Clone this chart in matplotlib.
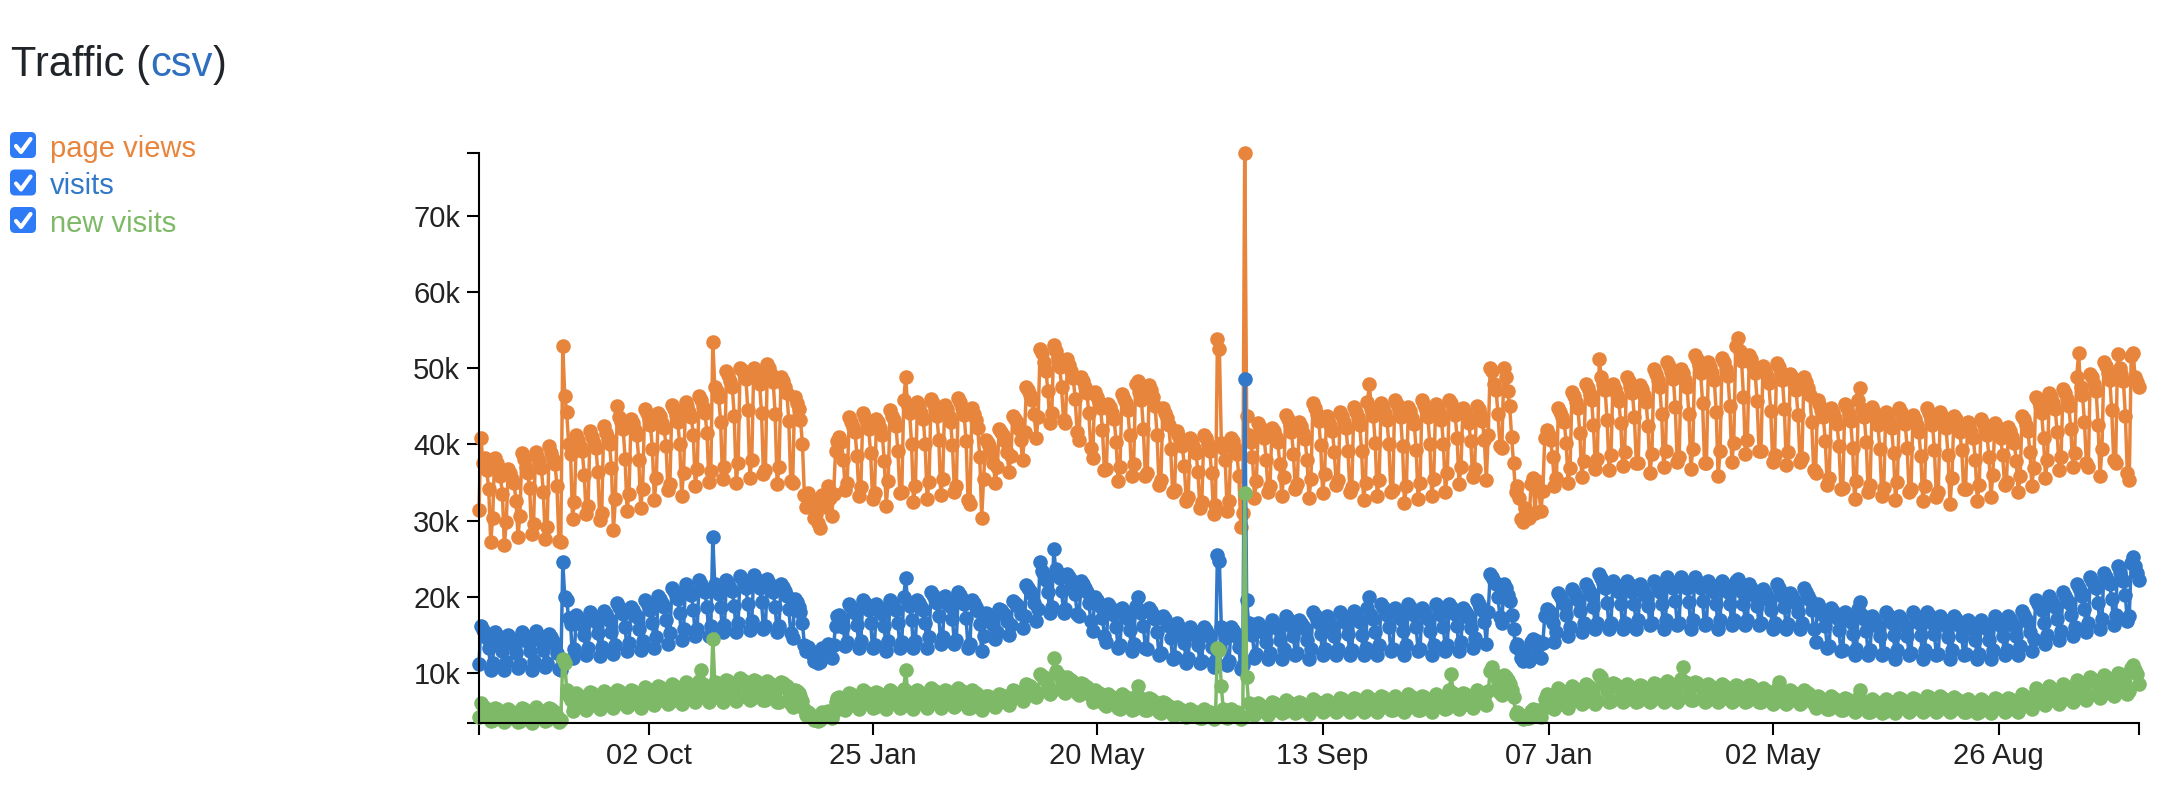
import matplotlib
matplotlib.use("Agg")
import matplotlib.pyplot as plt
import matplotlib.dates as mdates
from matplotlib.patches import FancyBboxPatch
import pandas as pd

# daily series, first day is a Sunday; one row per week (Sun..Sat), values in thousands
START = "2013-07-07"

page_views = [
    [31.4, 40.9, 37.5, 38.2, 36.6, 34.1, 27.2],
    [30.3, 38.2, 37.6, 36.9, 35.8, 33.5, 26.8],
    [29.8, 36.8, 36.2, 35.4, 34.9, 32.6, 27.9],
    [30.6, 38.9, 38.1, 37.0, 36.2, 34.3, 28.2],
    [29.5, 39.0, 38.4, 37.8, 36.9, 33.8, 27.6],
    [29.2, 39.8, 38.9, 38.1, 37.4, 34.6, 27.3],
    [27.2, 53.0, 46.4, 44.3, 40.1, 38.8, 30.2],
    [32.5, 41.2, 40.6, 39.8, 39.1, 36.0, 30.8],
    [31.9, 41.8, 41.0, 40.2, 39.6, 36.4, 30.1],
    [31.0, 42.4, 41.5, 40.8, 40.0, 36.9, 28.7],
    [32.8, 45.1, 43.6, 42.9, 42.0, 38.1, 31.2],
    [33.5, 43.3, 42.8, 41.9, 41.2, 38.0, 31.6],
    [34.2, 44.6, 44.1, 43.3, 42.5, 39.4, 32.7],
    [35.6, 44.2, 43.7, 42.8, 42.1, 39.8, 34.0],
    [34.8, 45.2, 44.7, 43.9, 43.0, 40.1, 33.2],
    [36.3, 45.6, 45.0, 44.3, 43.6, 41.2, 34.6],
    [36.8, 46.4, 45.8, 44.9, 44.1, 41.5, 35.1],
    [36.5, 53.5, 47.6, 47.0, 46.3, 43.0, 35.4],
    [37.0, 49.6, 49.1, 48.4, 47.5, 43.8, 35.0],
    [37.5, 50.1, 49.8, 49.2, 48.6, 44.5, 35.6],
    [38.0, 50.0, 49.5, 48.8, 47.9, 44.2, 36.1],
    [36.6, 50.6, 50.0, 49.3, 48.2, 44.0, 34.8],
    [37.0, 48.9, 48.4, 47.6, 46.8, 43.1, 35.2],
    [34.9, 46.2, 45.5, 44.6, 43.2, 40.1, 33.4],
    [31.8, 33.6, 33.0, 32.1, 30.4, 30.9, 29.7],
    [29.0, 33.4, 32.6, 31.8, 34.5, 33.0, 30.6],
    [33.5, 39.2, 40.5, 41.0, 40.3, 38.0, 34.0],
    [35.0, 43.6, 43.0, 42.3, 41.6, 38.5, 33.2],
    [34.4, 44.1, 43.5, 42.8, 42.0, 38.9, 32.8],
    [33.6, 43.4, 42.9, 42.2, 41.3, 37.8, 31.9],
    [35.2, 44.5, 43.8, 43.2, 42.4, 39.2, 33.6],
    [33.8, 45.8, 48.9, 45.0, 44.2, 40.1, 32.4],
    [34.6, 45.6, 45.0, 44.2, 43.4, 40.0, 32.8],
    [35.1, 46.0, 45.4, 44.7, 43.8, 40.6, 33.3],
    [35.4, 45.2, 44.6, 43.8, 43.0, 39.9, 33.8],
    [34.5, 46.1, 45.6, 44.8, 43.9, 40.4, 32.7],
    [32.2, 44.8, 44.0, 43.2, 42.1, 38.4, 30.4],
    [35.4, 40.6, 40.2, 39.8, 39.0, 37.5, 35.0],
    [37.0, 42.0, 41.7, 41.2, 40.5, 39.0, 36.4],
    [38.5, 43.8, 43.4, 42.9, 42.0, 40.6, 37.9],
    [41.6, 47.6, 47.2, 46.5, 45.8, 44.0, 40.8],
    [43.6, 52.6, 52.0, 50.8, 49.6, 47.0, 42.8],
    [44.2, 53.1, 52.3, 51.4, 50.2, 47.5, 43.2],
    [42.8, 51.2, 50.4, 49.6, 48.7, 46.0, 41.6],
    [40.6, 48.9, 48.3, 47.5, 46.8, 44.1, 39.5],
    [38.2, 46.9, 46.3, 45.6, 44.8, 41.9, 36.6],
    [36.8, 45.3, 44.9, 44.1, 43.4, 40.3, 35.2],
    [37.1, 46.6, 46.0, 45.4, 44.5, 41.2, 35.8],
    [37.4, 47.9, 48.3, 46.9, 45.8, 42.0, 35.9],
    [36.2, 47.8, 47.1, 46.2, 45.1, 41.3, 34.7],
    [35.3, 44.8, 44.2, 43.5, 42.6, 39.4, 33.7],
    [34.0, 41.8, 41.3, 40.6, 39.8, 37.2, 32.6],
    [33.1, 40.8, 40.3, 39.6, 38.9, 36.4, 31.6],
    [32.4, 41.2, 40.9, 40.1, 39.2, 36.3, 30.8],
    [32.0, 53.8, 52.6, 40.2, 39.5, 37.9, 31.2],
    [32.6, 40.8, 40.4, 39.6, 38.7, 35.8, 29.2],
    [31.0, 78.3, 43.7, 41.2, 40.3, 38.4, 33.0],
    [35.2, 42.8, 42.3, 41.6, 40.8, 38.0, 33.7],
    [34.6, 42.2, 41.8, 41.0, 40.3, 37.4, 33.2],
    [35.7, 43.9, 43.3, 42.6, 41.7, 38.8, 34.1],
    [34.8, 42.9, 42.4, 41.5, 40.7, 37.9, 33.0],
    [35.4, 45.4, 44.8, 44.0, 43.1, 39.9, 33.6],
    [36.1, 43.8, 43.3, 42.5, 41.8, 39.0, 34.7],
    [35.3, 44.3, 43.8, 43.0, 42.2, 39.1, 33.8],
    [34.4, 44.9, 44.3, 43.6, 42.6, 39.2, 32.7],
    [34.9, 45.6, 48.0, 44.6, 43.7, 40.2, 33.2],
    [35.3, 45.4, 44.9, 44.1, 43.2, 40.0, 33.8],
    [34.0, 45.9, 45.3, 44.6, 43.6, 39.8, 32.3],
    [34.5, 44.9, 44.4, 43.5, 42.7, 39.3, 32.8],
    [34.9, 45.8, 45.2, 44.5, 43.6, 40.1, 33.2],
    [35.4, 45.3, 44.8, 44.0, 43.2, 40.0, 33.7],
    [36.3, 45.8, 45.4, 44.7, 43.9, 40.9, 34.8],
    [37.0, 44.8, 44.2, 43.6, 42.8, 40.5, 35.7],
    [36.8, 45.1, 44.7, 44.0, 43.1, 40.6, 35.3],
    [41.2, 50.1, 49.6, 48.0, 47.2, 44.0, 39.8],
    [39.6, 50.0, 48.9, 47.0, 45.0, 41.0, 37.5],
    [33.8, 34.5, 33.0, 30.2, 29.8, 31.6, 30.5],
    [30.4, 34.8, 35.6, 31.0, 35.2, 34.0, 31.2],
    [33.9, 40.8, 41.9, 41.2, 40.6, 38.4, 34.6],
    [35.6, 44.8, 44.3, 43.6, 42.9, 40.2, 34.9],
    [36.9, 46.9, 46.4, 45.6, 44.8, 41.5, 35.7],
    [37.8, 48.0, 47.4, 46.6, 45.8, 42.5, 36.8],
    [38.1, 51.2, 48.8, 48.0, 47.1, 43.2, 36.6],
    [38.6, 47.9, 47.3, 46.5, 45.7, 42.8, 37.2],
    [39.0, 48.9, 48.4, 47.6, 46.7, 43.6, 37.6],
    [37.6, 47.8, 47.3, 46.5, 45.6, 42.4, 36.2],
    [38.7, 49.9, 49.3, 48.5, 47.6, 44.0, 37.1],
    [39.2, 50.8, 50.3, 49.5, 48.6, 44.9, 37.7],
    [38.3, 49.9, 49.4, 48.5, 47.6, 44.0, 36.8],
    [39.4, 51.8, 51.2, 50.4, 49.4, 45.5, 37.6],
    [37.5, 50.8, 50.2, 49.4, 48.5, 44.3, 35.8],
    [39.1, 51.3, 50.8, 49.9, 49.0, 45.0, 37.7],
    [40.2, 53.0, 54.0, 52.3, 51.0, 46.3, 38.8],
    [40.6, 51.8, 51.2, 50.3, 49.4, 45.7, 39.2],
    [39.2, 50.3, 49.8, 49.0, 48.1, 44.4, 37.7],
    [38.6, 50.7, 50.2, 49.3, 48.5, 44.6, 37.3],
    [39.0, 49.3, 48.8, 48.0, 47.1, 43.9, 37.7],
    [38.2, 48.8, 48.2, 47.4, 46.5, 43.0, 36.7],
    [36.2, 45.8, 45.3, 44.5, 43.6, 40.4, 34.7],
    [35.6, 44.8, 44.3, 43.5, 42.7, 39.8, 34.2],
    [34.3, 45.3, 44.8, 44.0, 43.1, 39.6, 32.8],
    [35.2, 45.8, 47.4, 44.6, 43.6, 40.3, 33.7],
    [34.7, 44.9, 44.3, 43.5, 42.6, 39.4, 33.2],
    [34.3, 44.3, 43.8, 43.0, 42.2, 38.9, 32.7],
    [35.1, 44.8, 44.3, 43.5, 42.7, 39.6, 33.7],
    [34.2, 43.9, 43.3, 42.5, 41.7, 38.5, 32.6],
    [34.6, 44.8, 44.2, 43.4, 42.6, 39.3, 33.1],
    [33.8, 44.3, 43.7, 42.9, 42.1, 38.6, 32.2],
    [35.6, 43.8, 43.3, 42.5, 41.7, 39.3, 34.1],
    [34.1, 42.9, 42.4, 41.6, 40.8, 37.9, 32.6],
    [34.7, 43.3, 42.8, 42.0, 41.2, 38.3, 33.1],
    [36.0, 42.8, 42.3, 41.6, 40.8, 38.6, 34.7],
    [35.1, 42.3, 41.8, 41.0, 40.2, 37.8, 33.7],
    [35.8, 43.8, 43.3, 42.5, 41.8, 39.0, 34.6],
    [36.9, 46.3, 45.8, 45.0, 44.1, 40.8, 35.6],
    [37.9, 46.8, 46.3, 45.5, 44.6, 41.6, 36.6],
    [38.3, 47.3, 46.8, 46.0, 45.1, 42.0, 37.1],
    [38.9, 48.8, 52.0, 47.5, 46.5, 43.0, 37.5],
    [37.0, 49.3, 48.8, 48.0, 47.0, 42.6, 35.8],
    [39.4, 50.8, 50.3, 49.4, 48.5, 44.5, 38.0],
    [37.5, 51.9, 50.1, 49.2, 48.3, 43.8, 36.2],
    [35.3, 51.6, 52.0, 48.9, 48.2, 47.5],
]

visits = [
    [11.2, 16.2, 15.6, 15.0, 14.6, 13.2, 10.4],
    [11.3, 15.4, 15.0, 14.6, 14.2, 12.9, 10.3],
    [11.4, 15.0, 14.6, 14.1, 13.7, 12.6, 10.6],
    [11.1, 15.3, 14.9, 14.4, 14.0, 12.8, 10.3],
    [11.6, 15.5, 15.1, 14.6, 14.2, 13.0, 10.8],
    [11.3, 15.1, 14.7, 14.2, 13.8, 12.6, 10.5],
    [10.4, 24.5, 20.0, 19.6, 17.2, 16.4, 12.0],
    [13.1, 17.6, 17.2, 16.7, 16.3, 14.9, 12.3],
    [13.2, 18.0, 17.6, 17.1, 16.7, 15.2, 12.2],
    [13.4, 18.1, 17.7, 17.2, 16.8, 15.3, 12.5],
    [13.7, 19.2, 18.7, 18.2, 17.7, 16.0, 12.8],
    [13.9, 18.6, 18.2, 17.7, 17.3, 15.8, 13.0],
    [14.2, 19.6, 19.2, 18.7, 18.2, 16.5, 13.3],
    [14.7, 20.1, 19.7, 19.2, 18.7, 17.0, 13.8],
    [15.2, 21.1, 20.7, 20.2, 19.7, 17.8, 14.3],
    [15.7, 21.7, 21.2, 20.7, 20.2, 18.3, 14.8],
    [15.8, 22.2, 21.7, 21.2, 20.6, 18.6, 14.8],
    [16.2, 27.8, 21.6, 21.0, 20.4, 18.6, 15.3],
    [16.3, 22.2, 21.8, 21.2, 20.7, 18.8, 15.3],
    [16.6, 22.7, 22.3, 21.7, 21.1, 19.1, 15.6],
    [16.8, 22.8, 22.3, 21.7, 21.2, 19.3, 15.8],
    [16.2, 22.3, 21.8, 21.2, 20.6, 18.7, 15.3],
    [16.2, 21.7, 21.3, 20.7, 20.1, 18.4, 15.2],
    [14.6, 19.7, 19.3, 18.7, 18.0, 16.5, 13.7],
    [12.8, 13.4, 13.0, 12.5, 11.6, 12.0, 11.3],
    [11.4, 13.3, 13.0, 12.6, 13.8, 13.2, 12.0],
    [13.6, 16.2, 17.4, 17.6, 17.2, 16.0, 13.5],
    [14.1, 19.1, 18.7, 18.2, 17.8, 16.3, 13.3],
    [14.2, 19.6, 19.2, 18.7, 18.2, 16.6, 13.3],
    [13.7, 19.1, 18.7, 18.2, 17.7, 16.1, 12.8],
    [14.2, 19.6, 19.2, 18.7, 18.2, 16.6, 13.3],
    [14.0, 20.0, 22.4, 19.3, 18.8, 17.0, 13.2],
    [14.2, 19.6, 19.2, 18.7, 18.2, 16.6, 13.3],
    [14.7, 20.6, 20.2, 19.7, 19.2, 17.4, 13.8],
    [14.7, 20.1, 19.7, 19.2, 18.7, 17.1, 13.8],
    [14.3, 20.6, 20.2, 19.7, 19.1, 17.2, 13.3],
    [13.8, 19.6, 19.2, 18.7, 18.1, 16.4, 12.8],
    [14.8, 17.9, 17.7, 17.4, 17.1, 16.3, 14.4],
    [15.3, 18.4, 18.2, 17.9, 17.6, 16.8, 14.9],
    [16.3, 19.4, 19.2, 18.9, 18.6, 17.7, 15.9],
    [17.4, 21.5, 21.2, 20.8, 20.4, 19.2, 16.8],
    [18.4, 24.5, 23.4, 22.8, 22.2, 20.6, 17.8],
    [18.6, 26.2, 23.6, 23.1, 22.5, 20.8, 17.9],
    [18.4, 23.0, 22.6, 22.2, 21.7, 20.3, 17.7],
    [17.4, 22.0, 21.6, 21.1, 20.6, 19.2, 16.8],
    [15.5, 20.0, 19.6, 19.1, 18.6, 17.2, 14.8],
    [14.1, 19.0, 18.6, 18.1, 17.6, 16.0, 13.3],
    [13.6, 18.5, 18.1, 17.6, 17.1, 15.6, 12.8],
    [13.8, 18.8, 20.0, 18.3, 17.8, 16.1, 13.3],
    [13.1, 18.5, 18.1, 17.6, 17.1, 15.4, 12.3],
    [12.6, 17.5, 17.1, 16.6, 16.1, 14.6, 11.8],
    [12.1, 16.5, 16.1, 15.6, 15.2, 13.9, 11.3],
    [12.0, 16.0, 15.6, 15.2, 14.8, 13.6, 11.3],
    [11.6, 16.0, 15.6, 15.1, 14.7, 13.4, 10.8],
    [11.5, 25.5, 24.7, 16.0, 15.5, 14.6, 11.0],
    [11.6, 16.0, 15.6, 15.2, 14.7, 13.4, 10.5],
    [11.0, 48.6, 19.6, 16.6, 16.0, 14.9, 12.0],
    [12.5, 16.5, 16.1, 15.7, 15.2, 14.0, 11.8],
    [12.6, 17.0, 16.6, 16.1, 15.7, 14.3, 11.8],
    [13.1, 17.5, 17.1, 16.6, 16.2, 14.8, 12.3],
    [12.6, 17.0, 16.6, 16.1, 15.7, 14.3, 11.8],
    [13.1, 18.0, 17.6, 17.1, 16.6, 15.1, 12.3],
    [13.1, 17.5, 17.1, 16.6, 16.2, 14.8, 12.3],
    [13.1, 18.0, 17.6, 17.1, 16.6, 15.1, 12.3],
    [13.0, 18.1, 17.6, 17.1, 16.7, 15.0, 12.3],
    [13.2, 18.5, 19.9, 17.6, 17.1, 15.4, 12.3],
    [13.6, 19.0, 18.6, 18.1, 17.6, 16.0, 12.8],
    [13.1, 18.5, 18.1, 17.6, 17.1, 15.5, 12.3],
    [13.6, 19.0, 18.6, 18.1, 17.6, 16.0, 12.8],
    [13.1, 18.5, 18.1, 17.6, 17.1, 15.5, 12.3],
    [13.6, 19.0, 18.6, 18.1, 17.6, 16.0, 12.8],
    [13.7, 19.1, 18.6, 18.1, 17.7, 16.1, 12.8],
    [14.0, 18.5, 18.1, 17.7, 17.2, 15.9, 13.3],
    [14.6, 19.5, 19.1, 18.7, 18.2, 16.7, 13.8],
    [18.0, 23.0, 22.6, 22.1, 21.6, 20.0, 17.3],
    [16.6, 21.6, 21.1, 20.2, 19.4, 17.6, 15.8],
    [13.4, 13.8, 13.1, 12.0, 11.6, 12.6, 11.8],
    [11.6, 14.0, 14.4, 12.2, 14.2, 13.6, 12.0],
    [13.9, 17.4, 18.4, 18.1, 17.7, 16.6, 14.0],
    [15.4, 20.5, 20.1, 19.6, 19.1, 17.6, 14.8],
    [16.0, 21.0, 20.6, 20.1, 19.6, 18.1, 15.3],
    [16.5, 21.6, 21.1, 20.6, 20.1, 18.6, 15.8],
    [16.5, 23.0, 22.4, 21.8, 21.2, 19.2, 15.8],
    [16.5, 22.1, 21.6, 21.1, 20.6, 19.0, 15.8],
    [16.6, 22.0, 21.6, 21.1, 20.6, 19.0, 15.8],
    [17.0, 21.6, 21.1, 20.6, 20.1, 18.8, 16.3],
    [16.5, 22.1, 21.6, 21.1, 20.6, 19.0, 15.8],
    [17.0, 22.6, 22.1, 21.6, 21.1, 19.4, 16.3],
    [16.6, 22.6, 22.1, 21.6, 21.1, 19.3, 15.8],
    [17.0, 22.6, 22.1, 21.6, 21.1, 19.4, 16.3],
    [16.5, 22.1, 21.6, 21.1, 20.6, 19.0, 15.8],
    [17.0, 22.1, 21.6, 21.1, 20.6, 19.1, 16.3],
    [17.0, 22.0, 22.3, 21.1, 20.6, 19.1, 16.3],
    [17.0, 21.6, 21.1, 20.6, 20.1, 18.8, 16.3],
    [16.5, 21.0, 20.6, 20.1, 19.6, 18.3, 15.8],
    [16.5, 21.6, 21.1, 20.6, 20.1, 18.6, 15.8],
    [16.4, 20.5, 20.1, 19.6, 19.2, 18.0, 15.8],
    [16.5, 21.2, 20.6, 20.1, 19.6, 18.2, 15.8],
    [14.0, 19.0, 18.6, 18.1, 17.6, 16.1, 13.3],
    [13.5, 18.5, 18.1, 17.6, 17.2, 15.6, 12.8],
    [13.0, 18.0, 17.6, 17.1, 16.7, 15.1, 12.3],
    [13.1, 18.4, 19.3, 17.6, 17.1, 15.5, 12.3],
    [13.0, 17.5, 17.1, 16.6, 16.2, 14.8, 12.3],
    [12.6, 18.0, 17.6, 17.1, 16.6, 15.0, 11.8],
    [13.0, 17.5, 17.1, 16.6, 16.2, 14.8, 12.3],
    [12.6, 18.0, 17.6, 17.1, 16.6, 15.0, 11.8],
    [13.0, 18.0, 17.6, 17.1, 16.6, 15.1, 12.3],
    [12.5, 17.5, 17.1, 16.6, 16.2, 14.7, 11.8],
    [13.0, 17.5, 17.1, 16.6, 16.2, 14.8, 12.3],
    [12.5, 17.0, 16.6, 16.1, 15.7, 14.3, 11.8],
    [12.5, 17.0, 16.6, 16.1, 15.7, 14.3, 11.8],
    [13.0, 17.5, 17.1, 16.6, 16.2, 14.8, 12.3],
    [13.0, 17.5, 17.1, 16.6, 16.2, 14.8, 12.3],
    [13.5, 18.1, 17.6, 17.1, 16.7, 15.3, 12.8],
    [14.5, 19.6, 19.1, 18.6, 18.2, 16.6, 13.8],
    [15.0, 20.1, 19.6, 19.1, 18.7, 17.1, 14.3],
    [15.5, 20.6, 20.1, 19.6, 19.2, 17.6, 14.8],
    [16.0, 21.6, 21.1, 20.6, 20.1, 18.4, 15.3],
    [16.6, 22.6, 22.1, 21.6, 21.1, 19.2, 15.8],
    [17.1, 23.1, 22.6, 22.1, 21.6, 19.7, 16.3],
    [17.6, 24.0, 23.2, 22.6, 22.1, 20.2, 16.8],
    [17.5, 24.4, 25.2, 24.0, 23.1, 22.2],
]

new_visits = [
    [4.2, 6.0, 5.6, 5.4, 5.2, 4.6, 3.6],
    [3.8, 5.4, 5.2, 5.0, 4.9, 4.3, 3.5],
    [3.8, 5.2, 5.0, 4.8, 4.6, 4.2, 3.5],
    [3.7, 5.4, 5.2, 5.0, 4.8, 4.3, 3.4],
    [3.9, 5.5, 5.3, 5.1, 4.9, 4.4, 3.6],
    [3.8, 5.4, 5.2, 5.0, 4.8, 4.3, 3.5],
    [3.8, 11.8, 11.3, 7.8, 7.0, 6.4, 5.0],
    [5.4, 7.3, 7.1, 6.9, 6.7, 6.1, 5.1],
    [5.5, 7.5, 7.3, 7.1, 6.9, 6.3, 5.2],
    [5.7, 7.6, 7.4, 7.2, 7.0, 6.4, 5.4],
    [5.8, 7.8, 7.6, 7.4, 7.2, 6.6, 5.5],
    [5.7, 7.8, 7.6, 7.4, 7.2, 6.5, 5.4],
    [6.0, 8.1, 7.9, 7.7, 7.5, 6.8, 5.7],
    [6.2, 8.3, 8.1, 7.9, 7.7, 7.0, 5.9],
    [6.2, 8.5, 8.3, 8.1, 7.9, 7.1, 5.9],
    [6.4, 8.8, 8.6, 8.4, 8.2, 7.4, 6.1],
    [6.5, 8.9, 10.3, 8.5, 8.3, 7.5, 6.2],
    [6.5, 14.5, 8.8, 8.6, 8.4, 7.6, 6.2],
    [6.6, 9.1, 8.9, 8.7, 8.5, 7.7, 6.3],
    [6.7, 9.3, 9.1, 8.9, 8.6, 7.8, 6.4],
    [6.7, 9.1, 8.9, 8.7, 8.5, 7.7, 6.4],
    [6.4, 8.9, 8.7, 8.5, 8.3, 7.5, 6.1],
    [6.2, 8.8, 8.6, 8.4, 8.2, 7.3, 5.9],
    [5.5, 7.8, 7.6, 7.3, 7.0, 6.3, 5.2],
    [4.4, 4.8, 4.6, 4.3, 3.8, 4.0, 3.6],
    [3.8, 4.8, 4.7, 4.4, 5.0, 4.6, 4.0],
    [4.9, 6.2, 6.7, 6.8, 6.6, 6.0, 5.1],
    [5.5, 7.4, 7.2, 7.0, 6.8, 6.2, 5.2],
    [5.7, 7.7, 7.5, 7.3, 7.1, 6.4, 5.4],
    [5.5, 7.5, 7.3, 7.1, 6.9, 6.2, 5.2],
    [5.7, 7.7, 7.5, 7.3, 7.1, 6.4, 5.4],
    [5.6, 7.9, 10.3, 7.5, 7.3, 6.5, 5.3],
    [5.7, 7.7, 7.5, 7.3, 7.1, 6.4, 5.4],
    [5.7, 8.0, 7.8, 7.6, 7.4, 6.6, 5.4],
    [5.8, 7.8, 7.6, 7.4, 7.2, 6.5, 5.5],
    [5.7, 8.0, 7.8, 7.6, 7.4, 6.6, 5.4],
    [5.4, 7.7, 7.5, 7.3, 7.1, 6.3, 5.1],
    [5.6, 7.0, 6.9, 6.8, 6.6, 6.2, 5.5],
    [5.9, 7.2, 7.1, 7.0, 6.8, 6.4, 5.8],
    [6.4, 7.7, 7.6, 7.5, 7.3, 6.9, 6.3],
    [6.9, 8.5, 8.4, 8.2, 8.0, 7.5, 6.8],
    [7.3, 9.8, 9.6, 9.4, 9.1, 8.4, 7.2],
    [7.6, 11.9, 10.2, 9.9, 9.6, 8.8, 7.5],
    [7.4, 9.4, 9.2, 9.0, 8.8, 8.2, 7.3],
    [7.1, 8.7, 8.5, 8.3, 8.1, 7.6, 6.9],
    [6.1, 7.7, 7.5, 7.3, 7.1, 6.6, 5.9],
    [5.6, 7.2, 7.0, 6.8, 6.6, 6.1, 5.4],
    [5.3, 7.2, 7.0, 6.8, 6.6, 6.0, 5.1],
    [5.3, 7.0, 8.2, 6.8, 6.6, 6.0, 5.1],
    [5.1, 6.7, 6.5, 6.3, 6.1, 5.6, 4.9],
    [4.7, 6.2, 6.0, 5.8, 5.6, 5.2, 4.5],
    [4.4, 5.5, 5.3, 5.2, 5.0, 4.7, 4.2],
    [4.3, 5.2, 5.0, 4.9, 4.8, 4.5, 4.1],
    [4.1, 5.2, 5.0, 4.9, 4.8, 4.4, 3.9],
    [4.3, 13.3, 13.0, 8.2, 5.2, 4.8, 4.0],
    [4.2, 5.2, 5.0, 4.9, 4.8, 4.4, 3.9],
    [4.2, 33.6, 9.4, 6.0, 5.8, 5.4, 4.5],
    [4.7, 6.0, 5.8, 5.6, 5.5, 5.1, 4.5],
    [4.9, 6.2, 6.0, 5.8, 5.7, 5.3, 4.7],
    [4.9, 6.4, 6.2, 6.0, 5.9, 5.4, 4.7],
    [4.8, 6.2, 6.0, 5.8, 5.7, 5.3, 4.6],
    [5.1, 6.5, 6.3, 6.1, 6.0, 5.5, 4.9],
    [5.1, 6.4, 6.2, 6.0, 5.9, 5.5, 4.9],
    [5.1, 6.7, 6.5, 6.3, 6.1, 5.6, 4.9],
    [5.1, 6.7, 6.5, 6.3, 6.1, 5.6, 4.9],
    [5.1, 6.9, 6.7, 6.5, 6.3, 5.8, 4.9],
    [5.3, 7.0, 6.8, 6.6, 6.4, 5.9, 5.1],
    [5.1, 6.9, 6.7, 6.5, 6.3, 5.8, 4.9],
    [5.3, 7.2, 7.0, 6.8, 6.6, 6.0, 5.1],
    [5.1, 7.0, 6.8, 6.6, 6.4, 5.9, 4.9],
    [5.4, 7.2, 7.0, 6.8, 6.6, 6.1, 5.2],
    [5.4, 7.7, 9.8, 7.3, 7.1, 6.4, 5.2],
    [5.6, 7.4, 7.2, 7.0, 6.8, 6.3, 5.4],
    [5.9, 7.7, 7.5, 7.3, 7.1, 6.6, 5.7],
    [7.6, 10.2, 10.7, 9.8, 9.6, 8.8, 7.4],
    [7.1, 9.7, 9.5, 9.0, 8.5, 7.8, 6.8],
    [4.6, 4.8, 4.6, 4.2, 3.9, 4.3, 4.0],
    [4.0, 5.0, 5.2, 4.3, 5.1, 4.8, 4.2],
    [5.2, 6.6, 7.2, 7.1, 6.9, 6.4, 5.3],
    [5.6, 8.0, 7.8, 7.6, 7.4, 6.8, 5.4],
    [6.1, 8.2, 8.0, 7.8, 7.6, 7.0, 5.9],
    [6.1, 8.5, 8.3, 8.1, 7.9, 7.2, 5.9],
    [6.3, 9.7, 9.5, 8.6, 8.4, 7.6, 6.1],
    [6.3, 8.7, 8.5, 8.3, 8.1, 7.4, 6.1],
    [6.4, 8.5, 8.3, 8.1, 7.9, 7.3, 6.2],
    [6.3, 8.4, 8.2, 8.0, 7.8, 7.2, 6.1],
    [6.4, 8.7, 8.5, 8.3, 8.1, 7.4, 6.2],
    [6.4, 8.9, 8.7, 8.5, 8.3, 7.6, 6.2],
    [6.6, 9.2, 10.7, 8.8, 8.6, 7.8, 6.4],
    [6.4, 8.8, 8.6, 8.4, 8.2, 7.5, 6.2],
    [6.3, 8.5, 8.3, 8.1, 7.9, 7.2, 6.1],
    [6.4, 8.5, 8.3, 8.1, 7.9, 7.3, 6.2],
    [6.4, 8.4, 8.2, 8.0, 7.8, 7.2, 6.2],
    [6.3, 8.4, 8.2, 8.0, 7.8, 7.2, 6.1],
    [6.1, 8.0, 7.8, 7.6, 7.4, 6.9, 5.9],
    [6.1, 7.9, 8.8, 7.5, 7.3, 6.8, 5.9],
    [6.1, 7.7, 7.5, 7.3, 7.1, 6.7, 5.9],
    [6.1, 7.7, 7.5, 7.3, 7.1, 6.7, 5.9],
    [5.4, 7.0, 6.8, 6.6, 6.4, 5.9, 5.2],
    [5.3, 6.9, 6.7, 6.5, 6.3, 5.8, 5.1],
    [5.1, 6.7, 6.5, 6.3, 6.1, 5.6, 4.9],
    [5.1, 6.7, 7.8, 6.3, 6.1, 5.6, 4.9],
    [4.9, 6.5, 6.3, 6.1, 5.9, 5.4, 4.7],
    [4.9, 6.5, 6.3, 6.1, 5.9, 5.4, 4.7],
    [5.1, 6.7, 6.5, 6.3, 6.1, 5.6, 4.9],
    [5.1, 6.7, 6.5, 6.3, 6.1, 5.6, 4.9],
    [5.1, 7.0, 6.8, 6.6, 6.4, 5.8, 4.9],
    [5.1, 6.9, 6.7, 6.5, 6.3, 5.8, 4.9],
    [5.1, 6.8, 6.6, 6.4, 6.2, 5.7, 4.9],
    [4.9, 6.5, 6.3, 6.1, 5.9, 5.4, 4.7],
    [4.9, 6.5, 6.3, 6.1, 5.9, 5.4, 4.7],
    [5.1, 6.7, 6.5, 6.3, 6.1, 5.6, 4.9],
    [5.1, 6.7, 6.5, 6.3, 6.1, 5.6, 4.9],
    [5.4, 7.2, 7.0, 6.8, 6.6, 6.1, 5.2],
    [5.9, 8.0, 7.8, 7.6, 7.4, 6.8, 5.7],
    [6.1, 8.2, 8.0, 7.8, 7.6, 7.0, 5.9],
    [6.3, 8.5, 8.3, 8.1, 7.9, 7.3, 6.1],
    [6.6, 9.0, 8.8, 8.6, 8.4, 7.7, 6.4],
    [6.9, 9.4, 9.2, 9.0, 8.8, 8.1, 6.7],
    [7.1, 9.7, 9.5, 9.3, 9.1, 8.3, 6.9],
    [7.4, 10.0, 9.8, 9.6, 9.4, 8.6, 7.2],
    [7.6, 10.6, 11.0, 10.3, 9.8, 8.5],
]

series_names = ["page views", "visits", "new visits"]
series_colors = ["#e8853d", "#3178c8", "#7db966"]
tick_dates = ["2013-10-02", "2014-01-25", "2014-05-20", "2014-09-13",
              "2015-01-07", "2015-05-02", "2015-08-26"]
y_ticks = [10, 20, 30, 40, 50, 60, 70]

W, H = 2168, 800


def flatten(rows):
    return [v for row in rows for v in row]


def main():
    plt.rcParams["font.family"] = ["Liberation Sans", "DejaVu Sans"]
    fig = plt.figure(figsize=(W / 100, H / 100), dpi=100)
    ax = fig.add_axes([479 / W, 1 - 723 / H, (2139 - 479) / W, (723 - 153) / H])

    data = [flatten(page_views), flatten(visits), flatten(new_visits)]
    days = pd.date_range(START, periods=len(data[0]), freq="D")

    for vals, color in zip(data, series_colors):
        ax.plot(days, vals, color=color, lw=2.5, marker="o", ms=10.5,
                mew=0, clip_on=False, solid_joinstyle="round")

    lo = min(min(v) for v in data)
    hi = max(max(v) for v in data)
    ax.set_ylim(lo, hi)
    ax.set_xlim(days[0], days[-1])

    ax.set_yticks(y_ticks)
    ax.set_yticklabels([f"{t}k" for t in y_ticks])
    ax.set_xticks(pd.to_datetime(tick_dates))
    ax.xaxis.set_major_formatter(mdates.DateFormatter("%d %b"))
    # outer ticks at the ends of the domain
    ax.set_xticks([mdates.date2num(days[0]), mdates.date2num(days[-1])], minor=True)
    ax.set_yticks([lo, hi], minor=True)

    for s in ["top", "right"]:
        ax.spines[s].set_visible(False)
    for s in ["left", "bottom"]:
        ax.spines[s].set_linewidth(1.5)
        ax.spines[s].set_color("black")
    ax.tick_params(which="both", length=8.6, width=1.5, color="black")
    ax.tick_params(which="major", labelsize=21, labelcolor="#222222", pad=5)
    ax.patch.set_alpha(0)

    # overlay in pixel coordinates for title and legend
    ov = fig.add_axes([0, 0, 1, 1])
    ov.set_xlim(0, W)
    ov.set_ylim(H, 0)
    ov.axis("off")

    renderer = fig.canvas.get_renderer()
    x = 11
    for txt, col in [("Traffic (", "#212529"), ("csv", "#2f6fbf"), (")", "#212529")]:
        t = ov.text(x, 76, txt, fontsize=30, color=col, va="baseline", ha="left")
        bb = t.get_window_extent(renderer)
        x = bb.x1

    for i, (name, color) in enumerate(zip(series_names, series_colors)):
        top = 132 + i * 37.5
        box = FancyBboxPatch((10, top), 26, 26,
                             boxstyle="round,pad=0,rounding_size=5",
                             fc="#2f7bf5", ec="none")
        ov.add_patch(box)
        ov.plot([16, 21, 30.5], [top + 14, top + 20, top + 7], color="white",
                lw=3, solid_capstyle="round", solid_joinstyle="round")
        ov.text(50, top + 25, name, fontsize=21, color=color, va="baseline", ha="left")

    fig.savefig("out.png", dpi=100)


if __name__ == "__main__":
    main()
